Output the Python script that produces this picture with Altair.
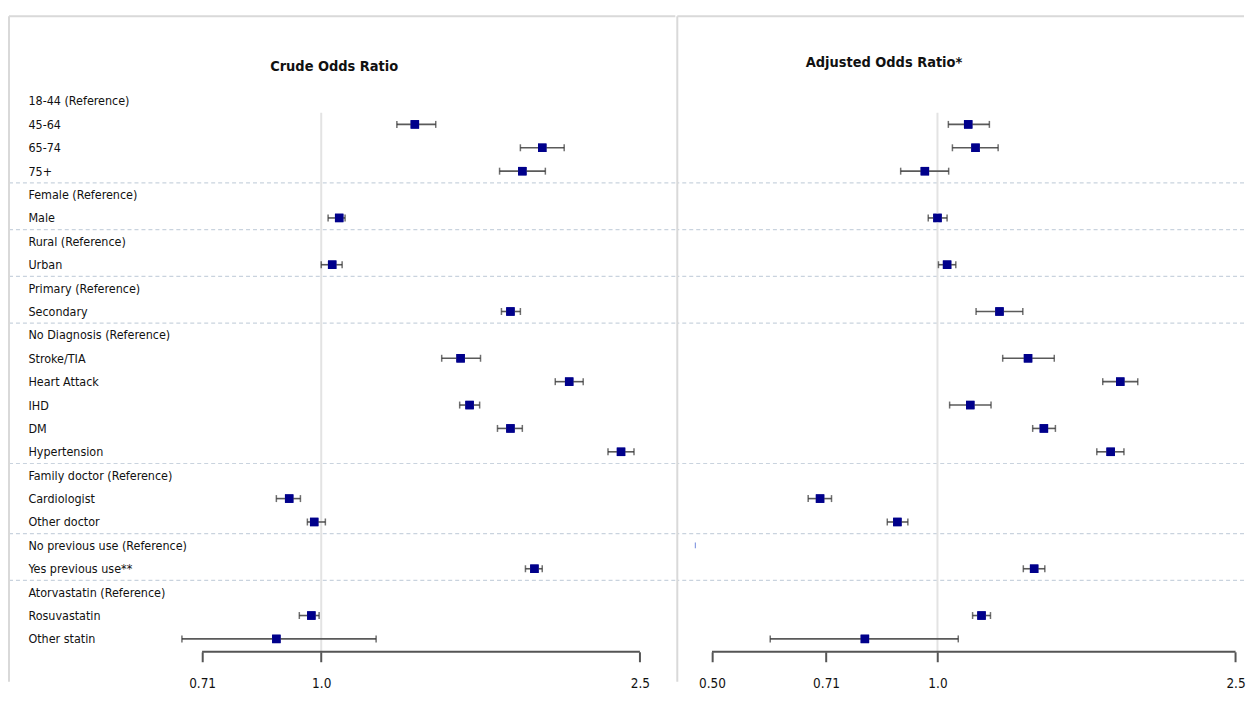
import altair as alt
import pandas as pd

# ---------------- data ----------------
labels = [
    "18-44 (Reference)", "45-64", "65-74", "75+",
    "Female (Reference)", "Male",
    "Rural (Reference)", "Urban",
    "Primary (Reference)", "Secondary",
    "No Diagnosis (Reference)", "Stroke/TIA", "Heart Attack", "IHD", "DM", "Hypertension",
    "Family doctor (Reference)", "Cardiologist", "Other doctor",
    "No previous use (Reference)", "Yes previous use**",
    "Atorvastatin (Reference)", "Rosuvastatin", "Other statin",
]
group_sizes = [4, 2, 2, 2, 6, 3, 2, 3]

crude_or = [None, 1.309, 1.888, 1.783, None, 1.053, None, 1.032, None, 1.723,
            None, 1.493, 2.040, 1.532, 1.723, 2.368, None, 0.912, 0.980, None, 1.846,
            None, 0.972, 0.879]
crude_lo = [None, 1.243, 1.773, 1.670, None, 1.020, None, 1.000, None, 1.679,
            None, 1.414, 1.960, 1.489, 1.660, 2.281, None, 0.879, 0.961, None, 1.799,
            None, 0.939, 0.670]
crude_hi = [None, 1.390, 2.011, 1.905, None, 1.071, None, 1.062, None, 1.773,
            None, 1.581, 2.124, 1.577, 1.783, 2.458, None, 0.942, 1.012, None, 1.888,
            None, 0.994, 1.171]

adj_or = [None, 1.099, 1.124, 0.962, None, 1.000, None, 1.030, None, 1.210,
          None, 1.321, 1.754, 1.106, 1.387, 1.703, None, 0.697, 0.884, None, 1.346,
          None, 1.145, 0.800]
adj_lo = [None, 1.034, 1.047, 0.893, None, 0.972, None, 1.003, None, 1.126,
          None, 1.222, 1.662, 1.038, 1.340, 1.632, None, 0.672, 0.857, None, 1.302,
          None, 1.114, 0.598]
adj_hi = [None, 1.173, 1.205, 1.035, None, 1.030, None, 1.058, None, 1.300,
          None, 1.432, 1.851, 1.179, 1.437, 1.774, None, 0.722, 0.913, None, 1.391,
          None, 1.177, 1.066]
# stray mark drawn on the "No previous use (Reference)" row of the adjusted panel
adj_stray_row = [19]
adj_stray_val = [0.475]

crude_ticks = [0.71, 1.0, 2.5]
crude_tick_labels = ["0.71", "1.0", "2.5"]
adj_ticks = [0.50, 0.71, 1.0, 2.5]
adj_tick_labels = ["0.50", "0.71", "1.0", "2.5"]

# ---------------- style ----------------
FONT = "DejaVu Sans Condensed, Liberation Sans Narrow, sans-serif"
NAVY = "#00008B"
CI_COL = "#5a5a5a"
BORDER = "#d9d9d9"
SEP = "#c9d3de"
REF = "#e3e3e3"
AXIS_COL = "#555555"

N = len(labels)
Y_TOP, Y_BOT = -3.62, 23.55
H = 638
yscale = alt.Scale(domain=[Y_TOP, Y_BOT], reverse=True, nice=False, zero=False)

seps = []
c = 0
for g in group_sizes[:-1]:
    c += g
    seps.append(c - 0.5)
sep_df = pd.DataFrame({"sep": seps})


def label_expr(vals, labs):
    expr = "''"
    for v, l in reversed(list(zip(vals, labs))):
        expr = f"abs(datum.value - {v}) < 1e-6 ? '{l}' : ({expr})"
    return expr


def panel(est, lo, hi, xdomain, ticks, tick_labs, width, title, dx, dy, with_labels,
          stray=None):
    df = pd.DataFrame({"row": list(range(N)), "label": labels,
                       "est": est, "lo": lo, "hi": hi})
    pts = df.dropna()
    xs = alt.Scale(type="log", domain=xdomain, nice=False)

    xaxis = alt.Axis(values=ticks, labelExpr=label_expr(ticks, tick_labs),
                     domain=False, grid=False, ticks=True, tickSize=10,
                     tickWidth=2, tickColor=AXIS_COL, labelFont=FONT,
                     labelFontSize=13.5, labelColor="#111111", labelPadding=15,
                     labelBaseline="top", title=None, labelFlush=False)
    if with_labels:
        yaxis = alt.Axis(values=list(range(N)),
                         labelExpr="[" + ",".join("'" + l + "'" for l in labels) + "][datum.value]",
                         labelAlign="left", labelBaseline="middle",
                         labelPadding=-19, ticks=False, domain=False, grid=False,
                         labelFont=FONT, labelFontSize=12.5, labelColor="#111111",
                         labelLimit=0, labelOverlap=False, labelBound=False,
                         labelFlush=False, title=None)
    else:
        yaxis = None

    def X(f):
        return alt.X(f, scale=xs, axis=xaxis)

    def Y(f):
        return alt.Y(f, scale=yscale, axis=yaxis)

    sep = alt.Chart(sep_df).mark_rule(color=SEP, strokeDash=[4, 3], strokeWidth=1.2).encode(
        y=Y("sep:Q"))

    ref_df = pd.DataFrame({"x": [1.0], "y": [0.5], "y2": [Y_BOT]})
    ref = alt.Chart(ref_df).mark_rule(color=REF, strokeWidth=2).encode(
        x=X("x:Q"), y=Y("y:Q"), y2="y2:Q")

    ax_df = pd.DataFrame({"x": [min(ticks)], "x2": [max(ticks)], "y": [Y_BOT]})
    axline = alt.Chart(ax_df).mark_rule(color=AXIS_COL, strokeWidth=2).encode(
        x=X("x:Q"), x2="x2:Q", y=Y("y:Q"))

    ci = alt.Chart(pts).mark_rule(color=CI_COL, strokeWidth=1.6).encode(
        x=X("lo:Q"), x2="hi:Q", y=Y("row:Q"))
    cap_lo = alt.Chart(pts).mark_tick(color="#333333", orient="vertical", size=7,
                                      thickness=1.5).encode(x=X("lo:Q"), y=Y("row:Q"))
    cap_hi = alt.Chart(pts).mark_tick(color="#333333", orient="vertical", size=7,
                                      thickness=1.5).encode(x=X("hi:Q"), y=Y("row:Q"))
    sq = alt.Chart(pts).mark_square(color=NAVY, size=72, opacity=1).encode(
        x=X("est:Q"), y=Y("row:Q"))

    bdf = pd.DataFrame({"b": [0]})
    left_border = alt.Chart(bdf).mark_rule(color=BORDER, strokeWidth=2).encode(
        x=alt.value(0), y=alt.value(0), y2=alt.value(H + 30))
    top_border = alt.Chart(bdf).mark_rule(color=BORDER, strokeWidth=2).encode(
        x=alt.value(0), x2=alt.value(width), y=alt.value(0))

    layers = [sq, sep, ref, axline, ci, cap_lo, cap_hi]
    if stray is not None:
        sdf = pd.DataFrame({"row": stray[0], "val": stray[1]})
        layers.append(alt.Chart(sdf).mark_tick(color="#3355cc", orient="vertical",
                                               size=6, thickness=1).encode(
            x=X("val:Q"), y=Y("row:Q")))
    layers += [sq, left_border, top_border]

    return alt.layer(*layers).properties(
        width=width, height=H,
        title=alt.TitleParams(title, anchor="middle", frame="group", offset=-66 + dy,
                              dx=dx, baseline="middle", font=FONT, fontSize=14.5,
                              fontWeight="bold", color="#111111"))


left = panel(crude_or, crude_lo, crude_hi, [0.4075, 2.768], crude_ticks,
             crude_tick_labels, 669, "Crude Odds Ratio", -8, 0, True)
right = panel(adj_or, adj_lo, adj_hi, [0.4494, 2.566], adj_ticks,
              adj_tick_labels, 569, "Adjusted Odds Ratio*", -77, 4, False,
              stray=(adj_stray_row, adj_stray_val))

chart = alt.hconcat(left, right, spacing=0).properties(
    padding={"left": 0, "top": 6, "right": 0, "bottom": 0},
    background="white",
).configure_view(stroke=None).configure_concat(spacing=0)

chart.save("out.html", embed_options={"renderer": "svg", "actions": False})
